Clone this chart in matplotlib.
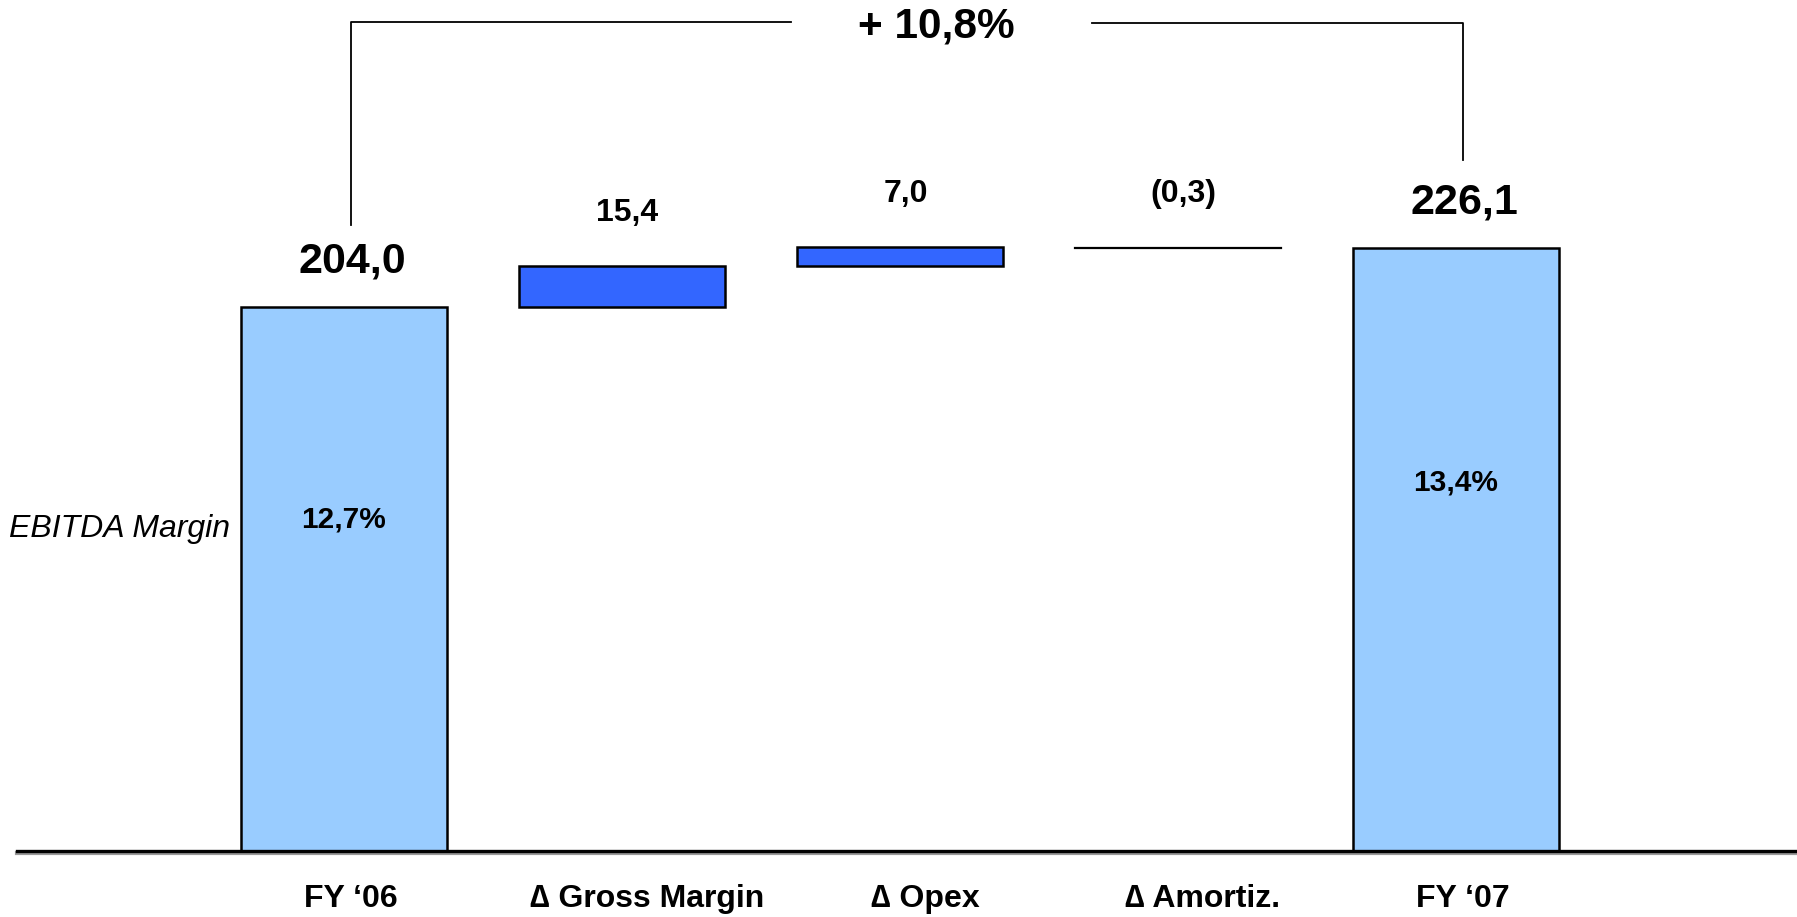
import matplotlib.pyplot as plt
from matplotlib.patches import Rectangle

plt.rcParams['font.family'] = ['Liberation Sans', 'DejaVu Sans']

# EBITDA bridge FY'06 -> FY'07
categories = ["FY \u201806", "\u2206 Gross Margin", "\u2206 Opex", "\u2206 Amortiz.", "FY \u201807"]
start_value = 204.0
deltas = [15.4, 7.0, -0.3]
end_value = 226.1
delta_labels = ["15,4", "7,0", "(0,3)"]
total_labels = ["204,0", "226,1"]
margins = ["12,7%", "13,4%"]
growth_label = "+ 10,8%"

light = "#99CCFF"
dark = "#3366FF"
bar_w = 0.74

fig = plt.figure(figsize=(17.97, 9.17), dpi=100)
ax = fig.add_axes([0, 0, 1, 1])
ax.set_xlim(-1.237, 5.227)
ax.set_ylim(-24.75, 319.1)
ax.axis("off")

# totals
totals = [start_value, end_value]
for i, (xi, v) in enumerate(zip([0, 4], totals)):
    ax.add_patch(Rectangle((xi - bar_w / 2, 0), bar_w, v, facecolor=light,
                           edgecolor="black", linewidth=1.8, zorder=2))
    ax.text(xi + 0.03, v + 17, total_labels[i], ha="center", va="center",
            fontsize=31, fontweight="bold")
    ax.text(xi, v * 0.62 - 2, margins[i], ha="center", va="center",
            fontsize=21.5, fontweight="bold")

# floating deltas
level = start_value
for j, d in enumerate(deltas):
    xi = j + 1
    top = level + d
    if abs(d) < 1:
        ax.plot([xi - bar_w / 2, xi + bar_w / 2], [top, top],
                color="black", linewidth=1.6, zorder=2)
    else:
        ax.add_patch(Rectangle((xi - bar_w / 2, level), bar_w, d, facecolor=dark,
                               edgecolor="black", linewidth=1.8, zorder=2))
    ax.text(xi + 0.02, max(level, top) + 20, delta_labels[j], ha="center",
            va="center", fontsize=23, fontweight="bold")
    level = top

# baseline with soft shadow
ax.plot([-1.175, 5.22], [-0.9, -0.9], color="#999999", linewidth=3, zorder=1)
ax.plot([-1.175, 5.22], [0, 0], color="black", linewidth=2.4, zorder=3)

for i, c in enumerate(categories):
    shift = 0.09 if c.startswith("\u2206") else 0.025
    ax.text(i + shift, -18.0, c, ha="center", va="center", fontsize=23, fontweight="bold")

ax.text(-1.205, start_value * 0.6 - 1.5, "EBITDA Margin", ha="left", va="center",
        fontsize=23, fontstyle="italic")

# growth bracket
top_y = 311
lx, rx = 0.025, 4.025
ax.plot([lx, lx, 1.61], [start_value + 30.7, top_y, top_y], color="black", linewidth=1.3)
ax.plot([2.69, rx, rx], [top_y - 0.5, top_y - 0.5, end_value + 33], color="black", linewidth=1.3)
ax.text(2.13, 309.2, growth_label, ha="center", va="center", fontsize=30.5, fontweight="bold")

fig.savefig("out.png", dpi=100)
